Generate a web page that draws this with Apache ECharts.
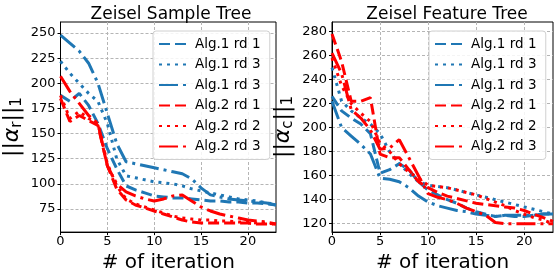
<!DOCTYPE html>
<html><head><meta charset="utf-8">
<script src="https://cdn.jsdelivr.net/npm/echarts@6/dist/echarts.min.js"></script>
<style>html,body{margin:0;padding:0;background:#fff}#c{width:555px;height:278px}</style>
</head><body><div id="c"></div>
<script>
const iterations = [0,1,2,3,4,5,6,7,8,9,10,11,12,13,14,15,16,17,18,19,20,21,22,23];
const seriesNames = ['Alg.1 rd 1','Alg.1 rd 3','Alg.1 rd 3 ','Alg.2 rd 1','Alg.2 rd 2','Alg.2 rd 3'];
const xTicks = [0,5,10,15,20];
const leftYTicks = [75,100,125,150,175,200,225,250];
const rightYTicks = [120,140,160,180,200,220,240,260,280];

// Zeisel Sample Tree
const sampleA1r1 = [188,182,190,178,160,135,115,98,94,91,88,87,86,86,85,84,83,83,82,82,81,81,80,79];
const sampleA1r3dot = [222,210,200,190,182,160,125,108,106,104,102,101,100,98,95,93,91,89,87,85,84,83,81,80];
const sampleA1r3dd = [248,240,232,220,200,170,140,122,120,118,116,114,112,110,105,96,89,87,85,84,83,82,81,79];
const sampleA2r1 = [185,162,168,163,158,118,95,84,79,76,73,70,67,64,62,61,61,61,61,61,61,60,60,60];
const sampleA2r2 = [188,165,172,165,160,120,98,85,80,77,74,71,68,66,65,64,64,63,63,62,62,61,61,60];
const sampleA2r3 = [207,192,180,168,160,118,100,92,88,85,83,85,88,89,83,77,73,70,68,66,64,63,62,60];

// Zeisel Feature Tree
const featureA1r1 = [226,214,208,203,195,162,165,170,165,155,148,144,140,137,133,130,128,126,127,126,126,127,128,128];
const featureA1r3dot = [250,222,214,208,203,195,180,170,162,155,152,151,150,148,146,144,142,140,138,136,134,132,130,128];
const featureA1r3dd = [222,200,193,186,178,158,157,155,150,143,138,135,133,131,130,128,127,126,127,127,127,127,128,128];
const featureA2r1 = [278,255,222,222,225,178,175,175,165,155,150,146,143,141,139,137,136,135,134,133,131,128,125,122];
const featureA2r2 = [258,235,220,212,205,187,180,170,163,158,152,151,150,148,146,144,141,138,135,131,128,125,123,120];
const featureA2r3 = [262,245,215,208,198,182,183,190,175,160,145,142,140,137,133,130,127,121,120,120,120,120,120,120];

const BLUE = '#1f77b4', RED = '#ff0000';
const styles = [
  {color: BLUE, type: [11, 5]},
  {color: BLUE, type: [3, 5]},
  {color: BLUE, type: [19, 5, 3, 5]},
  {color: RED, type: [11, 5]},
  {color: RED, type: [3, 5]},
  {color: RED, type: [19, 5, 3, 5]}
];
const sampleData = [sampleA1r1, sampleA1r3dot, sampleA1r3dd, sampleA2r1, sampleA2r2, sampleA2r3];
const featureData = [featureA1r1, featureA1r3dot, featureA1r3dd, featureA2r1, featureA2r2, featureA2r3];

const FONT = 'DejaVu Sans';
function pairs(vals){ return vals.map((v,i)=>[iterations[i], v]); }
function makeSeries(dataList, gi){
  return dataList.map((vals, k)=>({
    name: seriesNames[k], type: 'line', xAxisIndex: gi, yAxisIndex: gi,
    data: pairs(vals), symbol: 'none', showSymbol: false, animation: false,
    color: styles[k].color,
    lineStyle: {color: styles[k].color, width: 3, type: styles[k].type, cap: 'butt'},
    z: 3
  }));
}
const gridLine = {show: true, lineStyle: {color: '#b5b5b5', width: 1, type: [3, 2]}};
function xAxis(gi){
  return {type: 'value', gridIndex: gi, min: 0, max: 23, interval: 5,
    name: '# of iteration', nameLocation: 'middle', nameGap: 18,
    nameTextStyle: {fontFamily: FONT, fontSize: 20, color: '#000'},
    axisLine: {show: true, lineStyle: {color: '#000', width: 1}},
    axisTick: {show: true, length: 3, lineStyle: {color: '#000'}, customValues: xTicks},
    axisLabel: {fontFamily: FONT, fontSize: 13, color: '#000', margin: 3, customValues: xTicks},
    splitLine: gridLine};
}
function yAxis(gi, min, max, ticks, sub){
  return {type: 'value', gridIndex: gi, min: min, max: max,
    name: '||{a|α}{s|' + sub + '}||{s|1}', nameLocation: 'middle', nameGap: 36,
    nameTextStyle: {fontFamily: FONT, fontSize: 22, color: '#000',
      rich: {a: {fontFamily: FONT, fontSize: 22, fontStyle: 'italic', color: '#000'},
             s: {fontFamily: FONT, fontSize: 15, color: '#000', padding: [10, 0, 0, 0]}}},
    axisLine: {show: true, lineStyle: {color: '#000', width: 1}},
    axisTick: {show: true, length: 3, lineStyle: {color: '#000'}, customValues: ticks},
    axisLabel: {fontFamily: FONT, fontSize: 13, color: '#000', margin: 5, customValues: ticks},
    splitLine: gridLine};
}
function legend(left){
  return {left: left, top: 31, orient: 'vertical', data: seriesNames,
    itemWidth: 31, itemHeight: 14, itemGap: 6.5, padding: [6, 5, 6, 5],
    itemStyle: {opacity: 0},
    backgroundColor: 'rgba(255,255,255,0.85)', borderColor: '#d0d0d0', borderWidth: 1, borderRadius: 3,
    textStyle: {fontFamily: FONT, fontSize: 13.5, color: '#000'},
    selectedMode: false};
}
const chart = echarts.init(document.getElementById('c'), null, {renderer: 'canvas'});
chart.setOption({
  animation: false,
  backgroundColor: '#fff',
  title: [
    {text: 'Zeisel Sample Tree', left: 166, top: 1, textAlign: 'center',
     textStyle: {fontFamily: FONT, fontSize: 17, fontWeight: 'normal', color: '#000'}},
    {text: 'Zeisel Feature Tree', left: 442, top: 1, textAlign: 'center',
     textStyle: {fontFamily: FONT, fontSize: 17, fontWeight: 'normal', color: '#000'}}
  ],
  grid: [
    {left: 56, right: 279, top: 22, bottom: 39, show: true, borderColor: '#000', borderWidth: 1, containLabel: false},
    {left: 332, right: 2, top: 22, bottom: 39, show: true, borderColor: '#000', borderWidth: 1, containLabel: false}
  ],
  xAxis: [xAxis(0), xAxis(1)],
  yAxis: [yAxis(0, 52, 261, leftYTicks, 'r'), yAxis(1, 113, 288, rightYTicks, 'c')],
  legend: [legend(153), legend(429)],
  series: makeSeries(sampleData, 0).concat(makeSeries(featureData, 1))
});
</script></body></html>
